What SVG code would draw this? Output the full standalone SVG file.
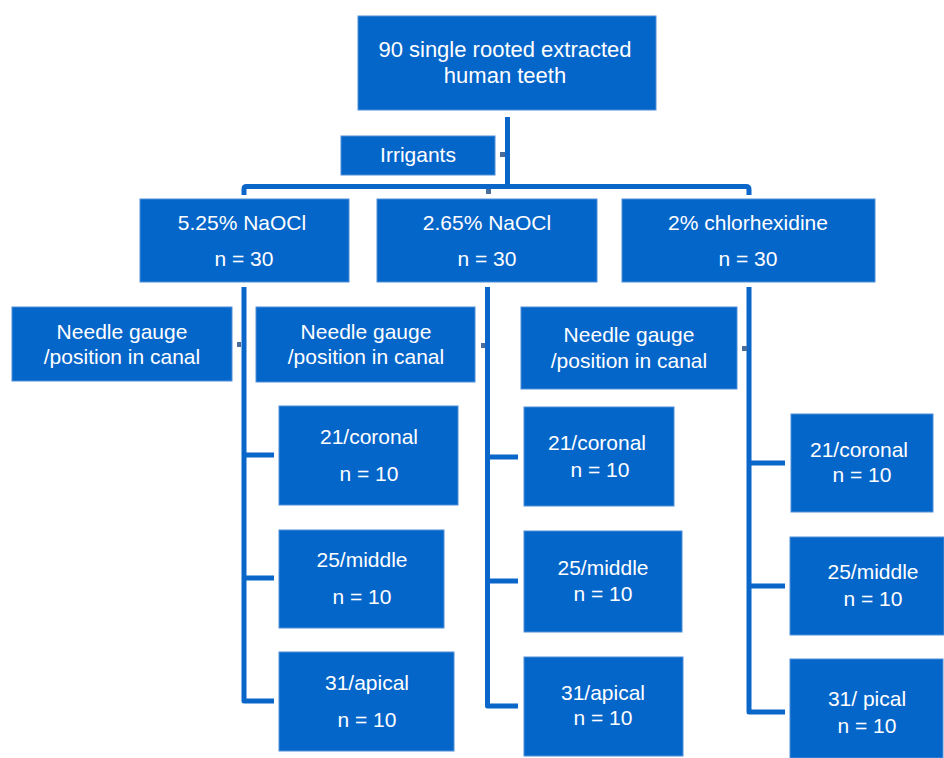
<svg xmlns="http://www.w3.org/2000/svg" width="944" height="758" viewBox="0 0 944 758">
<style>
.box{fill:#0566ca;stroke:#4f8fd8;stroke-width:1}
.t{fill:#ffffff;font-family:"Liberation Sans",Arial,sans-serif;font-size:21px;text-anchor:middle}
.c{fill:none;stroke:#0a66c9;stroke-width:5;stroke-linejoin:round}
.dot{fill:#4a6d9c}
</style>
<rect width="944" height="758" fill="#ffffff"/>
<g id="connectors">
<path class="c" d="M507.5 117 V186.5"/>
<path class="c" d="M244 195 V189 Q244 186.5 246.5 186.5 H746 Q749 186.5 749 189.5 V195"/>
<path class="c" d="M244 287 V701 H274 M244 455 H274 M244 578 H274"/>
<path class="c" d="M487.5 287 V706 H518 M487.5 457 H518 M487.5 581 H518"/>
<path class="c" d="M749 287 V712 H785 M749 463 H785 M749 586 H785"/>
<rect class="dot" x="500" y="152" width="5" height="5"/>
<rect class="dot" x="486" y="189" width="5" height="5"/>
<rect class="dot" x="237" y="342" width="4" height="5"/>
<rect class="dot" x="481" y="343" width="4" height="5"/>
<rect class="dot" x="742" y="346" width="5" height="5"/>
</g>
<g id="root"><rect class="box" x="358" y="16" width="298" height="94"/>
<text class="t" style="font-size:22px" x="505" y="57">90 single rooted extracted</text>
<text class="t" style="font-size:22px" x="505" y="83">human teeth</text></g>
<g id="irrigants"><rect class="box" x="341" y="136" width="154" height="39"/>
<text class="t" x="418" y="162">Irrigants</text></g>
<g id="naocl525"><rect class="box" x="140" y="199" width="209" height="83"/>
<text class="t" x="242" y="230">5.25% NaOCl</text>
<text class="t" x="244" y="266">n = 30</text></g>
<g id="naocl265"><rect class="box" x="377" y="199" width="220" height="83"/>
<text class="t" x="487" y="230">2.65% NaOCl</text>
<text class="t" x="487" y="266">n = 30</text></g>
<g id="chx"><rect class="box" x="622" y="199" width="253" height="83"/>
<text class="t" x="748" y="230">2% chlorhexidine</text>
<text class="t" x="748" y="266">n = 30</text></g>
<g id="needle1"><rect class="box" x="12" y="307" width="220" height="74"/>
<text class="t" x="122" y="339">Needle gauge</text>
<text class="t" x="122" y="364">/position in canal</text></g>
<g id="needle2"><rect class="box" x="256" y="307" width="219" height="75"/>
<text class="t" x="366" y="339">Needle gauge</text>
<text class="t" x="366" y="364">/position in canal</text></g>
<g id="needle3"><rect class="box" x="521" y="307" width="216" height="82"/>
<text class="t" x="629" y="342">Needle gauge</text>
<text class="t" x="629" y="368">/position in canal</text></g>
<g id="a21"><rect class="box" x="279" y="406" width="179" height="99"/>
<text class="t" x="369" y="444">21/coronal</text>
<text class="t" x="369" y="481">n = 10</text></g>
<g id="a25"><rect class="box" x="279" y="530" width="165" height="98"/>
<text class="t" x="362" y="567">25/middle</text>
<text class="t" x="362" y="604">n = 10</text></g>
<g id="a31"><rect class="box" x="279" y="652" width="175" height="99"/>
<text class="t" x="367" y="690">31/apical</text>
<text class="t" x="367" y="727">n = 10</text></g>
<g id="b21"><rect class="box" x="524" y="407" width="150" height="99"/>
<text class="t" x="597" y="450">21/coronal</text>
<text class="t" x="600" y="477">n = 10</text></g>
<g id="b25"><rect class="box" x="524" y="531" width="158" height="101"/>
<text class="t" x="603" y="575">25/middle</text>
<text class="t" x="603" y="601">n = 10</text></g>
<g id="b31"><rect class="box" x="524" y="657" width="159" height="99"/>
<text class="t" x="603" y="700">31/apical</text>
<text class="t" x="603" y="725">n = 10</text></g>
<g id="c21"><rect class="box" x="791" y="414" width="142" height="98"/>
<text class="t" x="859" y="457">21/coronal</text>
<text class="t" x="862" y="482">n = 10</text></g>
<g id="c25"><rect class="box" x="790" y="537" width="154" height="98"/>
<text class="t" x="873" y="579">25/middle</text>
<text class="t" x="873" y="606">n = 10</text></g>
<g id="c31"><rect class="box" x="790" y="659" width="153" height="99"/>
<text class="t" x="867" y="706">31/ pical</text>
<text class="t" x="867" y="733">n = 10</text></g>
</svg>
